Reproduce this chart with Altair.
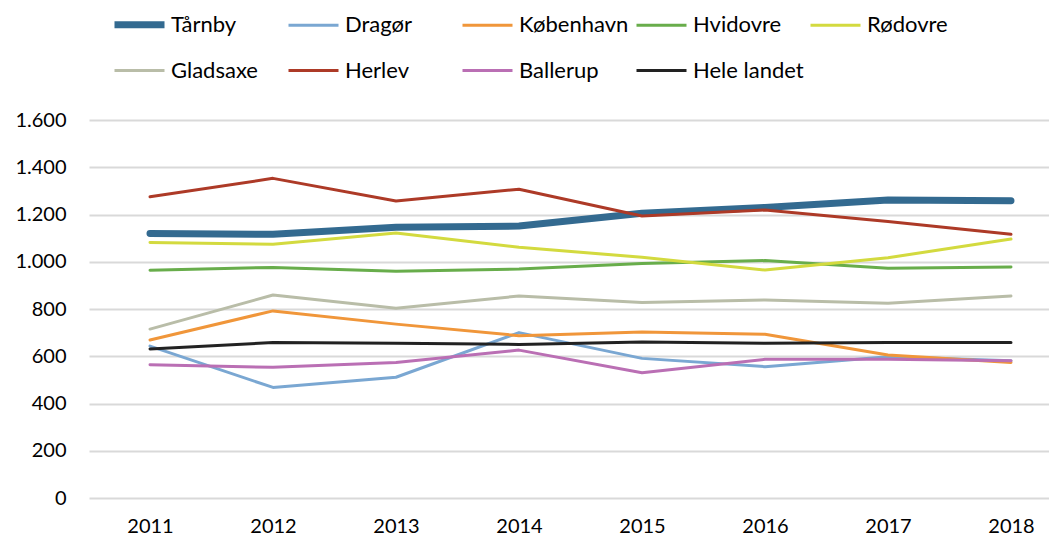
import altair as alt
import pandas as pd

years = [2011, 2012, 2013, 2014, 2015, 2016, 2017, 2018]
series_names = ["Tårnby", "Dragør", "København", "Hvidovre", "Rødovre",
                "Gladsaxe", "Herlev", "Ballerup", "Hele landet"]
taarnby = [1120, 1116, 1146, 1151, 1205, 1230, 1261, 1258]
dragoer = [643, 468, 511, 700, 591, 556, 598, 581]
koebenhavn = [669, 792, 736, 687, 703, 693, 605, 574]
hvidovre = [964, 976, 960, 969, 993, 1005, 972, 978]
roedovre = [1082, 1074, 1122, 1061, 1019, 965, 1017, 1096]
gladsaxe = [715, 859, 803, 855, 828, 838, 824, 855]
herlev = [1275, 1353, 1257, 1307, 1194, 1219, 1170, 1116]
ballerup = [564, 553, 574, 626, 530, 587, 587, 581]
hele_landet = [631, 658, 655, 650, 660, 655, 658, 658]

colors = ["#336A90", "#7AA7D2", "#F0963A", "#68AD4B", "#D3DA3F",
          "#B9BDA8", "#AD3A27", "#BA6FB4", "#222222"]
widths = [7, 3, 3, 3, 3, 3, 3, 3, 3]

all_series = [taarnby, dragoer, koebenhavn, hvidovre, roedovre,
              gladsaxe, herlev, ballerup, hele_landet]
rows = []
for name, vals in zip(series_names, all_series):
    for y, v in zip(years, vals):
        rows.append({"Kommune": name, "År": y, "Værdi": v})
df = pd.DataFrame(rows)

FONT = "Lato"

legend_props = dict(title=None, orient="none", direction="horizontal",
                    legendX=22, legendY=-124, columns=5, gridAlign="all",
                    columnPadding=0, rowPadding=5,
                    symbolType="stroke", symbolSize=2500,
                    labelFontSize=22, labelFont=FONT,
                    labelColor="#000000", labelOffset=3, padding=0)

chart = alt.Chart(df).mark_line(strokeCap="round", strokeJoin="round").encode(
    x=alt.X("År:Q",
            scale=alt.Scale(domain=[2010.504, 2018.309], nice=False, zero=False),
            axis=alt.Axis(values=years, format="d", title=None, grid=False,
                          domain=False, ticks=False, tickSize=0,
                          labelPadding=18, labelFontSize=20, labelFont=FONT,
                          labelColor="#000000")),
    y=alt.Y("Værdi:Q",
            scale=alt.Scale(domain=[0, 1600], nice=False),
            axis=alt.Axis(values=list(range(0, 1601, 200)), title=None,
                          grid=True, gridColor="#D9D9D9", gridWidth=2,
                          domain=False, ticks=False, tickSize=0,
                          labelPadding=23, labelFontSize=20, labelFont=FONT,
                          labelColor="#000000",
                          labelExpr="replace(format(datum.value, ','), ',', '.')")),
    color=alt.Color("Kommune:N",
                    scale=alt.Scale(domain=series_names, range=colors),
                    sort=series_names,
                    legend=alt.Legend(**legend_props)),
    strokeWidth=alt.StrokeWidth("Kommune:N",
                                scale=alt.Scale(type="ordinal", domain=series_names,
                                                range=widths),
                                sort=series_names,
                                legend=alt.Legend(**legend_props)),
).properties(
    width=960, height=378,
    autosize=alt.AutoSizeParams(type="none"),
    padding={"left": 81, "top": 112, "right": 0, "bottom": 40},
).configure_view(stroke=None)

chart.save("out.html", embed_options={"renderer": "svg", "actions": False})
